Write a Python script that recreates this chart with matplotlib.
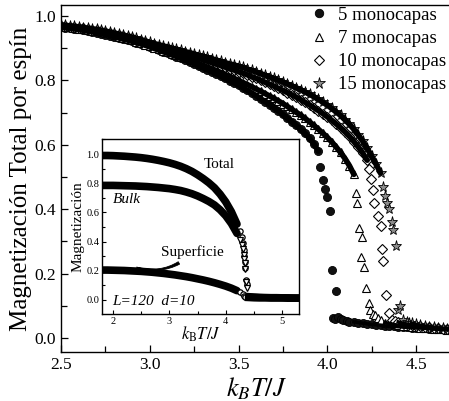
import numpy as np
import matplotlib
matplotlib.use("Agg")
from matplotlib import pyplot as plt
from matplotlib.ticker import MultipleLocator

plt.rcParams['font.family'] = ['Liberation Serif', 'DejaVu Serif']
plt.rcParams['mathtext.fontset'] = 'stix'

# temperature step of the simulation (main panel), starting at kT/J = 2.5
STEP = 0.025
T0 = 2.5

# ---- main panel: magnetization per spin, sampled every STEP from T0 ----
m5_band = [.966, .964, .962, .960, .958, .956, .953, .951, .948, .945,
           .942, .939, .935, .932, .928, .925, .921, .917, .913, .909,
           .904, .899, .894, .889, .884, .879, .874, .868, .863, .857,
           .851, .845, .839, .833, .827, .820, .813, .806, .799, .792,
           .785, .777, .769, .761, .752, .743, .734, .725, .715, .705,
           .694, .683, .672, .660, .648, .635, .620, .602, .580]
m5_crit_t = [3.959, 3.976, 3.988, 3.999, 4.015, 4.027, 4.049, 4.030, 4.045,
             4.060, 4.075, 4.090, 4.110, 4.125]
m5_crit = [.530, .490, .464, .437, .393, .210, .146, .062, .060,
           .065, .058, .055, .052, .050]
m5_tail_t0 = 4.15
m5_tail = [.050, .048, .046, .044, .042, .041, .040, .038, .037, .036,
           .035, .034, .033, .032, .031, .031, .030, .029, .028, .028,
           .027, .026, .026]

m7_band = [.968, .967, .965, .963, .961, .959, .957, .954, .952, .949,
           .946, .943, .940, .936, .933, .929, .925, .920, .916, .911,
           .906, .902, .897, .892, .888, .883, .878, .873, .868, .863,
           .858, .852, .847, .841, .836, .830, .824, .818, .812, .806,
           .800, .793, .787, .780, .773, .766, .759, .751, .744, .736,
           .728, .719, .710, .701, .692, .682, .671, .660, .648, .636,
           .623, .609, .593, .576, .557, .535, .508]
m7_crit_t = [4.160, 4.168, 4.179, 4.190, 4.196, 4.207, 4.218, 4.235, 4.240,
             4.255, 4.270, 4.285, 4.300]
m7_crit = [.450, .420, .340, .250, .315, .220, .155, .108, .087,
           .075, .070, .062, .055]
m7_tail_t0 = 4.325
m7_tail = [.048, .045, .042, .040, .038, .036, .035, .033, .032, .031,
           .030, .029, .028, .027, .026, .025]

m10_band = [.970, .969, .967, .966, .964, .962, .960, .957, .955, .952,
            .950, .947, .944, .941, .937, .934, .930, .926, .922, .918,
            .913, .909, .905, .901, .897, .893, .889, .885, .881, .876,
            .872, .868, .864, .859, .855, .850, .846, .841, .836, .832,
            .827, .822, .817, .811, .806, .800, .794, .788, .782, .775,
            .769, .762, .755, .748, .740, .732, .724, .715, .706, .697,
            .687, .676, .665, .653, .640, .626, .610, .593, .574, .552]
m10_crit_t = [4.235, 4.245, 4.255, 4.263, 4.286, 4.303, 4.308, 4.314, 4.331,
              4.348, 4.365, 4.380]
m10_crit = [.525, .495, .460, .418, .380, .347, .276, .240, .133,
            .077, .055, .052]
m10_tail_t0 = 4.4
m10_tail = [.050, .046, .043, .040, .038, .036, .034, .033, .031, .030,
            .029, .028, .027]

m15_band = [.972, .971, .969, .968, .966, .964, .962, .960, .958, .955,
            .953, .950, .947, .944, .941, .937, .934, .930, .926, .922,
            .918, .914, .911, .907, .904, .900, .897, .893, .889, .886,
            .882, .878, .875, .871, .867, .863, .859, .855, .851, .848,
            .844, .840, .835, .831, .826, .821, .816, .811, .806, .800,
            .795, .789, .783, .777, .771, .764, .757, .749, .741, .732,
            .723, .713, .702, .691, .678, .664, .648, .631, .611, .589,
            .565, .540, .512]
m15_crit_t = [4.315, 4.325, 4.337, 4.348, 4.365, 4.370, 4.387, 4.399, 4.410,
              4.427, 4.449, 4.460]
m15_crit = [.470, .440, .418, .400, .360, .334, .285, .087, .100,
            .056, .050, .048]
m15_tail_t0 = 4.475
m15_tail = [.046, .042, .039, .037, .035, .033, .031, .030, .029, .028]

labels = ["5 monocapas", "7 monocapas", "10 monocapas", "15 monocapas"]

# ---- inset: L=120, d=10, sampled every 0.1 from 1.8 ----
ins_t0 = 1.8
ins_step = 0.1
total_band = [.990, .990, .989, .987, .985, .982, .979, .975, .970, .964,
              .957, .949, .940, .929, .916, .900, .881, .858, .832, .803,
              .769, .725, .672, .605, .520]
bulk_band = [.785, .785, .785, .784, .783, .782, .781, .779, .777, .774,
             .771, .767, .763, .757, .750, .740, .728, .713, .695, .675,
             .651, .618, .577, .524, .456]
surf_band = [.205, .205, .204, .203, .202, .200, .198, .196, .193, .190,
             .186, .182, .177, .172, .166, .160, .153, .145, .137, .128,
             .118, .107, .095, .081, .064]
crit_t = [4.25, 4.28, 4.30, 4.32, 4.33, 4.34, 4.35, 4.36, 4.37]
total_crit = [.470, .430, .390, .340, .300, .260, .220, .140, .110]
bulk_crit = [.410, .380, .350, .310, .280, .250, .210, .120, .080]
surf_crit_t = [4.25, 4.30, 4.33, 4.35]
surf_crit = [.054, .042, .030, .022]
tail_t0 = 4.4
total_tail = [.025, .022, .020, .019, .018, .018, .017, .017, .016, .016]
bulk_tail = [.022, .020, .018, .017, .016, .016, .015, .015, .015, .014]
surf_tail = [.015, .013, .012, .012, .011, .011, .011, .010, .010, .010]


def grid(t_start, step, n):
    return np.round(t_start + step * np.arange(n), 3)


def main():
    fig = plt.figure(figsize=(4.49, 4.01), dpi=100, facecolor='w')
    ax = fig.add_axes([61 / 449, 49 / 401, 390.5 / 449, 347 / 401])

    styles = [
        dict(marker='o', ms=5.8, mfc='#111111', mec='black', mew=0.6),
        dict(marker='^', ms=6.0, mfc='white', mec='black', mew=0.8),
        dict(marker='D', ms=5.0, mfc='white', mec='black', mew=0.8),
        dict(marker='*', ms=8.0, mfc='#8c8c8c', mec='black', mew=0.6),
    ]
    data = [
        (m5_band, m5_crit_t, m5_crit, m5_tail_t0, m5_tail),
        (m7_band, m7_crit_t, m7_crit, m7_tail_t0, m7_tail),
        (m10_band, m10_crit_t, m10_crit, m10_tail_t0, m10_tail),
        (m15_band, m15_crit_t, m15_crit, m15_tail_t0, m15_tail),
    ]
    handles = []
    for (band, ct, cm, t0, tail), st, lab in zip(data, styles, labels):
        tb = grid(T0, STEP, len(band))
        tt = grid(t0, STEP, len(tail))
        t = np.concatenate([tb, ct, tt])
        m = np.concatenate([band, cm, tail])
        h, = ax.plot(t, m, linestyle='none', label=lab, zorder=2, **st)
        handles.append(h)
        # dense sampling of the original run: markers merge into a band
        ax.plot(tb, band, '-', color='black', lw=4.0, zorder=3,
                solid_capstyle='round')
        ax.plot(tt, tail, '-', color='black', lw=2.5, zorder=3)

    ax.set_xlim(2.5, 4.7)
    ax.set_ylim(-0.0435, 1.034)
    ax.xaxis.set_major_locator(MultipleLocator(0.5))
    ax.xaxis.set_minor_locator(MultipleLocator(0.25))
    ax.yaxis.set_major_locator(MultipleLocator(0.2))
    ax.yaxis.set_minor_locator(MultipleLocator(0.1))
    ax.xaxis.set_major_formatter(matplotlib.ticker.FormatStrFormatter('%.1f'))
    ax.yaxis.set_major_formatter(matplotlib.ticker.FormatStrFormatter('%.1f'))
    ax.tick_params(which='both', direction='in', top=False, right=False,
                   labelsize=12.5, width=0.9)
    ax.tick_params(which='major', length=5)
    ax.tick_params(which='minor', length=4)
    for sp in ax.spines.values():
        sp.set_linewidth(1.0)
    ax.set_xlabel(r'$k_BT/J$', fontsize=19, labelpad=2)
    ax.set_ylabel(u'Magnetización Total por espín', fontsize=18, labelpad=2)

    ax.legend(handles=handles, loc='upper right', bbox_to_anchor=(1.0, 0.99),
              bbox_transform=fig.transFigure, frameon=False, fontsize=13.5,
              handlelength=1.0, handletextpad=0.5, labelspacing=0.32,
              borderpad=0.15, borderaxespad=0, markerscale=1.05)

    # ---- inset ----
    ins = fig.add_axes([102 / 449, 87 / 401, 197 / 449, 175 / 401])
    tb = grid(ins_t0, ins_step, len(total_band))
    tt = grid(tail_t0, ins_step, len(total_tail))
    for band, crit_tt, crit, tail, mk in [
            (total_band, crit_t, total_crit, total_tail, 'o'),
            (bulk_band, crit_t, bulk_crit, bulk_tail, 'v'),
            (surf_band, surf_crit_t, surf_crit, surf_tail, 'o')]:
        ins.plot(tb, band, '-', color='black', lw=5.5, solid_capstyle='round')
        ins.plot(crit_tt, crit, linestyle='none', marker=mk, ms=3.8,
                 mfc='white', mec='black', mew=0.9)
        ins.plot(tt, tail, '-', color='black', lw=5.0)
    ins.set_xlim(1.805, 5.3)
    ins.set_ylim(-0.096, 1.103)
    ins.xaxis.set_major_locator(MultipleLocator(1))
    ins.xaxis.set_minor_locator(MultipleLocator(0.5))
    ins.yaxis.set_major_locator(MultipleLocator(0.2))
    ins.yaxis.set_minor_locator(MultipleLocator(0.1))
    ins.yaxis.set_major_formatter(matplotlib.ticker.FormatStrFormatter('%.1f'))
    ins.tick_params(which='both', direction='in', labelsize=7.5, width=0.8,
                    pad=2)
    ins.tick_params(which='major', length=3)
    ins.tick_params(which='minor', length=2)
    for sp in ins.spines.values():
        sp.set_linewidth(1.0)
    ins.set_xlabel(r'$k_{\rm B}T/J$', fontsize=12, labelpad=-1)
    ins.set_ylabel(u'Magnetización', fontsize=11, labelpad=1)

    ins.text(3.88, 0.93, 'Total', fontsize=11, ha='center', va='center')
    ins.text(2.0, 0.69, 'Bulk', fontsize=11, style='italic', va='center')
    ins.text(1.98, -0.01, 'L=120  d=10', fontsize=11, style='italic',
             va='center')
    ins.annotate('Superficie', xy=(2.42, 0.225), xytext=(2.86, 0.33),
                 fontsize=11, va='center', ha='left',
                 arrowprops=dict(arrowstyle='wedge,tail_width=0.18',
                                 connectionstyle='arc3,rad=-0.3',
                                 fc='black', ec='black', lw=0.6,
                                 shrinkA=2, shrinkB=0))

    fig.savefig('out.png', dpi=100, facecolor='w', edgecolor='w')


if __name__ == "__main__":
    main()
